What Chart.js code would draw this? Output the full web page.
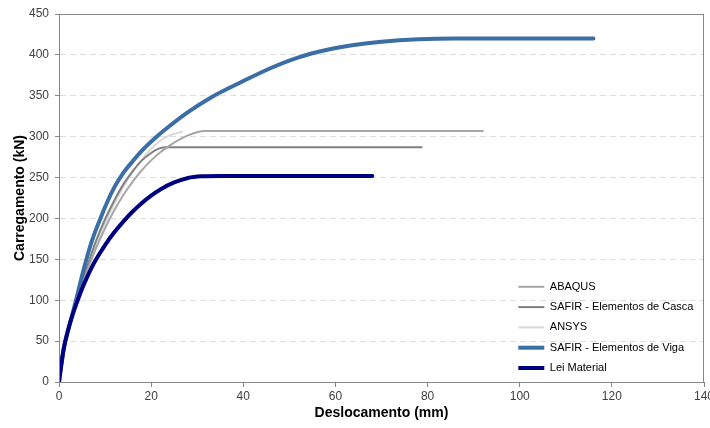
<!DOCTYPE html>
<html>
<head>
<meta charset="utf-8">
<script src="https://cdn.jsdelivr.net/npm/chart.js@4"></script>
<style>
  html, body { margin: 0; padding: 0; background: #fff; }
  #wrap { width: 710px; height: 428px; }
</style>
</head>
<body>
<div id="wrap"><canvas id="curves" width="710" height="428"></canvas></div>
<script>
// load-displacement curves, values (mm, kN)
const seriesNames = ["ABAQUS", "SAFIR - Elementos de Casca", "ANSYS", "SAFIR - Elementos de Viga", "Lei Material"];

const abaqusX = [0, 1, 2, 3, 4, 5, 6, 7, 8, 10, 12, 14, 16, 18, 20, 22, 24, 26, 28, 30, 31.5, 92];
const abaqusY = [0, 40, 64, 83, 100, 118, 134, 149, 163, 188, 210, 229, 245, 259, 271, 281, 289, 296, 301.5, 305.5, 307, 307];

const cascaX = [0, 1, 2, 3, 4, 5, 6, 7, 8, 10, 12, 14, 16, 18, 20, 21.5, 23, 78.7];
const cascaY = [0, 40, 64, 83, 102, 121, 139, 156, 172, 199, 222, 242, 258, 271, 280, 285, 287, 287];

const ansysX = [0, 1, 2, 3, 4, 5, 6, 7, 8, 10, 12, 14, 16, 18, 20, 22, 24, 26.7];
const ansysY = [0, 40, 64, 83, 100, 118, 135, 151, 166, 194, 218, 239, 257, 272, 285, 295, 301.5, 306];

const vigaX = [0, 1, 2, 3, 4, 5, 6, 7, 8, 9, 10, 12, 14, 16, 18, 21, 24, 28, 33, 40, 46, 52, 58, 64, 70, 78, 86, 116];
const vigaY = [0, 40, 64, 85, 107, 130, 151, 170, 186, 200, 214, 238, 256, 270, 283, 299, 313, 330, 348, 368, 384, 397, 406, 412, 416, 419, 420, 420];

const leiX = [0, 1, 2, 3, 4, 5, 6, 7, 8, 10, 12, 14, 16, 18, 20, 22, 25, 28, 31, 35, 68];
const leiY = [0, 40, 64, 83, 99, 114, 127, 139, 149.5, 167.5, 183, 196.5, 208.5, 219, 228, 235.5, 244, 249.5, 251.5, 252, 252];

const xTicks = [0, 20, 40, 60, 80, 100, 120, 140];
const yTicks = [0, 50, 100, 150, 200, 250, 300, 350, 400, 450];

function pts(xs, ys) {
  return xs.map((x, i) => ({ x, y: ys[i] }));
}

const lineStyle = [
  { color: "#a6a6a6", width: 2, order: 3 },
  { color: "#808080", width: 2, order: 4 },
  { color: "#d9d9d9", width: 2, order: 5 },
  { color: "#3b6ea5", width: 4, order: 2 },
  { color: "#000080", width: 4, order: 1 },
];

const allData = [
  pts(abaqusX, abaqusY),
  pts(cascaX, cascaY),
  pts(ansysX, ansysY),
  pts(vigaX, vigaY),
  pts(leiX, leiY),
];

const datasets = seriesNames.map((name, i) => ({
  label: name,
  data: allData[i],
  borderColor: lineStyle[i].color,
  backgroundColor: lineStyle[i].color,
  borderWidth: lineStyle[i].width,
  order: lineStyle[i].order,
  pointRadius: 0,
  pointHoverRadius: 0,
  cubicInterpolationMode: "monotone",
  borderCapStyle: "round",
  fill: false,
}));

// legend sits inside the plot, bottom right; plus a box round the plot
const framePlugin = {
  id: "framePlugin",
  afterLayout(chart) {
    const lg = chart.legend;
    lg.left = 509;
    lg.top = 272;
    lg.right = 710;
    lg.bottom = 428 + 272;
  },
  afterDatasetsDraw(chart) {
    const { ctx, chartArea: a } = chart;
    ctx.save();
    ctx.strokeStyle = "#868686";
    ctx.lineWidth = 1;
    ctx.strokeRect(Math.round(a.left) + 0.5, Math.round(a.top) + 0.5, Math.round(a.right - a.left) - 1, Math.round(a.bottom - a.top));
    ctx.restore();
  },
};

const tickFont = { family: "'Liberation Sans', Arial, sans-serif", size: 12 };
const titleFont = { family: "'Liberation Sans', Arial, sans-serif", size: 14, weight: "bold" };

new Chart(document.getElementById("curves"), {
  type: "line",
  data: { datasets },
  plugins: [framePlugin],
  options: {
    responsive: false,
    animation: false,
    layout: { padding: { top: 14, right: 6, left: 0, bottom: 0 } },
    plugins: {
      tooltip: { enabled: false },
      legend: {
        position: "chartArea",
        align: "start",
        labels: {
          usePointStyle: true,
          pointStyle: "line",
          pointStyleWidth: 26,
          boxHeight: 11,
          padding: 9.3,
          color: "#000",
          font: { family: "'Liberation Sans', Arial, sans-serif", size: 11 },
          sort: (a, b) => a.datasetIndex - b.datasetIndex,
        },
      },
    },
    scales: {
      x: {
        type: "linear",
        min: 0,
        max: 140,
        afterBuildTicks: (s) => { s.ticks = xTicks.map((v) => ({ value: v })); },
        afterFit: (s) => { s.height = 46; s.paddingLeft = 0; s.paddingRight = 0; },
        ticks: { color: "#404040", font: tickFont, padding: 2, maxRotation: 0 },
        grid: { drawOnChartArea: false, drawTicks: true, tickLength: 5, color: "#868686" },
        border: { color: "#868686", width: 1 },
        title: { display: true, text: "Deslocamento (mm)", color: "#000", font: titleFont, padding: { top: 0, bottom: 6 } },
      },
      y: {
        min: 0,
        max: 450,
        afterBuildTicks: (s) => { s.ticks = yTicks.map((v) => ({ value: v })); },
        afterFit: (s) => { s.width = 59; s.paddingTop = 0; s.paddingBottom = 0; },
        ticks: { color: "#404040", font: tickFont, padding: 6 },
        grid: { color: "#dedede", tickColor: "#868686", tickLength: 4, drawTicks: true },
        border: { color: "#868686", width: 1, dash: [6, 4] },
        title: { display: true, text: "Carregamento (kN)", color: "#000", font: titleFont, padding: { top: 12, bottom: 0 } },
      },
    },
  },
});
</script>
</body>
</html>
